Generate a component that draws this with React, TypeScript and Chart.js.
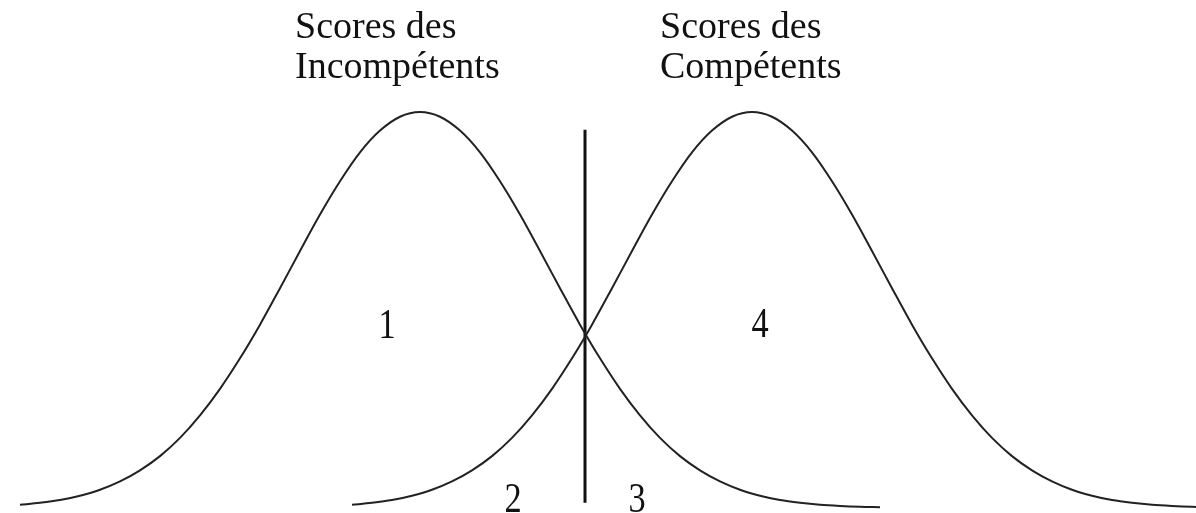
import React, { useEffect, useRef } from "react";
import { Chart, registerables } from "chart.js";

Chart.register(...registerables);

// Scores (x) and relative density (% of peak)
const incompetentScores = [
  2, 4, 6, 8, 10, 12, 14, 16, 18, 20, 22, 24, 26, 28, 30, 32, 34, 36, 38, 40, 42,
  44, 46, 48, 50, 52, 54, 56, 58, 60, 62, 64, 66, 68, 70, 72, 74, 76, 78, 80, 82, 84, 86, 88,
];
const incompetentDensity = [
  0.8, 1.3, 2.0, 3.1, 4.6, 6.7, 9.5, 13.1, 17.7, 23.4, 30.1, 37.8, 46.3, 55.5, 64.9, 74.1,
  82.5, 89.8, 95.3, 98.8, 100, 98.8, 95.3, 89.8, 82.5, 74.1, 64.9, 55.5, 46.3, 37.8, 30.1,
  23.4, 17.7, 13.1, 9.5, 6.7, 4.6, 3.1, 2.0, 1.3, 0.8, 0.5, 0.3, 0.2,
];

const competentScores = [
  35.2, 37.2, 39.2, 41.2, 43.2, 45.2, 47.2, 49.2, 51.2, 53.2, 55.2, 57.2, 59.2, 61.2, 63.2,
  65.2, 67.2, 69.2, 71.2, 73.2, 75.2, 77.2, 79.2, 81.2, 83.2, 85.2, 87.2, 89.2, 91.2, 93.2,
  95.2, 97.2, 99.2, 101.2, 103.2, 105.2, 107.2, 109.2, 111.2, 113.2, 115.2, 117.2, 119.2, 121.2,
];
const competentDensity = [
  0.8, 1.3, 2.0, 3.1, 4.6, 6.7, 9.5, 13.1, 17.7, 23.4, 30.1, 37.8, 46.3, 55.5, 64.9, 74.1,
  82.5, 89.8, 95.3, 98.8, 100, 98.8, 95.3, 89.8, 82.5, 74.1, 64.9, 55.5, 46.3, 37.8, 30.1,
  23.4, 17.7, 13.1, 9.5, 6.7, 4.6, 3.1, 2.0, 1.3, 0.8, 0.5, 0.3, 0.2,
];

// Decision cut-off (vertical line)
const cutoffScore = [58.5, 58.5];
const cutoffRange = [1.3, 95.5];

// Text annotations
const titleLines = [
  { text: "Scores des", x: 29.5, y: 118.7 },
  { text: "Incompétents", x: 29.5, y: 108.6 },
  { text: "Scores des", x: 66.0, y: 118.7 },
  { text: "Compétents", x: 66.0, y: 108.6 },
];
const zoneLabels = [
  { text: "1", x: 38.7, y: 42.9 },
  { text: "4", x: 76.0, y: 43.2 },
  { text: "2", x: 51.3, y: -1.0 },
  { text: "3", x: 63.7, y: -1.0 },
];

const toPoints = (xs: number[], ys: number[]) => xs.map((x, i) => ({ x, y: ys[i] }));

const textPlugin = {
  id: "textLabels",
  afterDatasetsDraw(chart: any) {
    const { ctx, scales } = chart;
    const xs = scales.x;
    const ys = scales.y;
    ctx.save();
    ctx.fillStyle = "#111";
    ctx.textBaseline = "alphabetic";
    ctx.font = '38px "Liberation Serif", "Times New Roman", serif';
    ctx.textAlign = "left";
    titleLines.forEach((t) => {
      ctx.fillText(t.text, xs.getPixelForValue(t.x), ys.getPixelForValue(t.y));
    });
    ctx.font = '43px "Liberation Serif", "Times New Roman", serif';
    ctx.textAlign = "center";
    zoneLabels.forEach((t) => {
      const px = xs.getPixelForValue(t.x);
      const py = ys.getPixelForValue(t.y);
      ctx.save();
      ctx.translate(px, py);
      ctx.scale(0.8, 1);
      ctx.fillText(t.text, 0, 0);
      ctx.restore();
    });
    ctx.restore();
  },
};

export default function App() {
  const canvasRef = useRef<HTMLCanvasElement | null>(null);

  useEffect(() => {
    document.body.style.margin = "0";
    document.body.style.background = "#ffffff";
    const canvas = canvasRef.current;
    if (!canvas) return;
    const chart = new Chart(canvas, {
      type: "scatter",
      data: {
        datasets: [
          {
            label: "Incompétents",
            data: toPoints(incompetentScores, incompetentDensity),
            showLine: true,
            borderColor: "#222",
            borderWidth: 2,
            pointRadius: 0,
            cubicInterpolationMode: "monotone",
          },
          {
            label: "Compétents",
            data: toPoints(competentScores, competentDensity),
            showLine: true,
            borderColor: "#222",
            borderWidth: 2,
            pointRadius: 0,
            cubicInterpolationMode: "monotone",
          },
          {
            label: "Seuil",
            data: toPoints(cutoffScore, cutoffRange),
            showLine: true,
            borderColor: "#111",
            borderWidth: 3,
            pointRadius: 0,
          },
        ],
      },
      options: {
        animation: false,
        responsive: false,
        devicePixelRatio: 1,
        layout: { padding: 0 },
        plugins: {
          legend: { display: false },
          tooltip: { enabled: false },
          title: { display: false },
        },
        scales: {
          x: { type: "linear", min: 0, max: 119.6, display: false },
          y: { type: "linear", min: -1.2626, max: 128.28, display: false },
        },
      } as any,
      plugins: [textPlugin],
    });
    return () => chart.destroy();
  }, []);

  return (
    <div style={{ width: 1196, height: 513, background: "#fff" }}>
      <canvas ref={canvasRef} width={1196} height={513} style={{ display: "block" }} />
    </div>
  );
}
